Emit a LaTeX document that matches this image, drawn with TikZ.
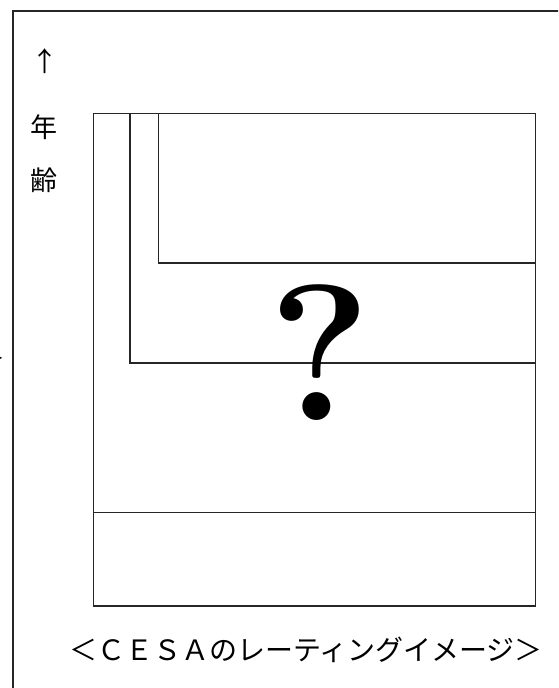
\documentclass[tikz,border=0pt]{standalone}
\usepackage{fontspec}
\newfontfamily\cjk{Noto Sans CJK JP}
\begin{document}
\begin{tikzpicture}[x=1pt,y=-1pt,
  frame/.style={line width=1.8pt,black!85},
  boxline/.style={line width=1.7pt,black!85},
  jtext/.style={inner sep=0pt,anchor=base,font=\cjk\fontsize{27}{27}\selectfont}]
\useasboundingbox (0,0) rectangle (558,688);
\begin{scope}
\clip (0,0) rectangle (558,688);
% outer frame
\draw[frame] (13,700) -- (13,11) -- (570,11);
% left clipped mark
\node[jtext] (mark) at (-8,368) {＞};
\end{scope}
% inner box
\coordinate (tl) at (93.5,113.5);
\coordinate (br) at (535.5,606);
\draw[boxline] (tl) rectangle (br);
\draw[boxline] (130,113.5) -- (130,363) -- (535.5,363);
\draw[boxline] (158.5,113.5) -- (158.5,263) -- (535.5,263);
\draw[boxline] (93.5,512.5) -- (535.5,512.5);
% axis label
\node[jtext] (arrow) at (45,71) {↑};
\node[jtext] (nen) at (44,137) {年};
\node[jtext] (rei) at (44,190) {齢};
% question mark
\node[inner sep=0pt,anchor=base,font=\rmfamily\bfseries\fontsize{194}{194}\selectfont] (q) at (320,420) {?};
% caption
\node[jtext,font=\cjk\fontsize{28}{28}\selectfont] (cap) at (306,660) {＜ＣＥＳＡのレーティングイメージ＞};
\end{tikzpicture}
\end{document}
